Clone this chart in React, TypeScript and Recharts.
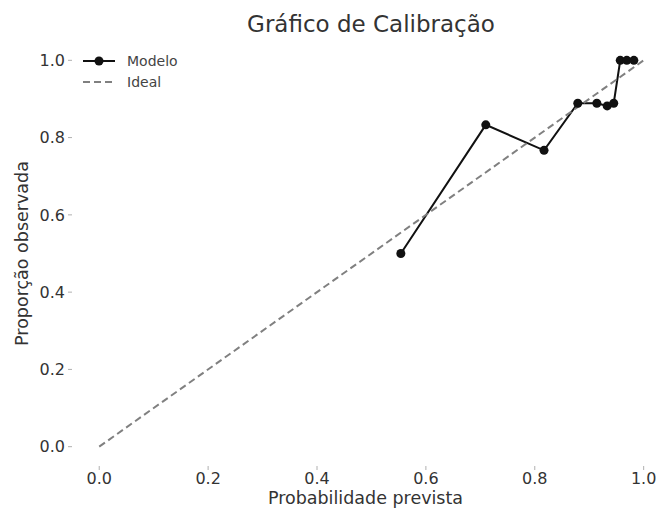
import { ComposedChart, Line, XAxis, YAxis } from 'recharts'

const predictedProb = [0.554, 0.71, 0.817, 0.879, 0.914, 0.933, 0.945, 0.957, 0.969, 0.982]
const observedProp = [0.5, 0.833, 0.767, 0.889, 0.889, 0.882, 0.889, 1.0, 1.0, 1.0]
const idealX = [0, 1]
const idealY = [0, 1]
const xTicks = [0, 0.2, 0.4, 0.6, 0.8, 1.0]
const yTicks = [0, 0.2, 0.4, 0.6, 0.8, 1.0]

const FONT = "'DejaVu Sans', sans-serif"
const TEXT = '#333333'

const modelData = predictedProb.map((x, i) => ({ x, y: observedProp[i] }))
const idealData = idealX.map((x, i) => ({ x, y: idealY[i] }))

type ViewBox = { x?: number; y?: number; width?: number; height?: number }

function XLabel({ viewBox }: { viewBox?: ViewBox }) {
  const vb = viewBox ?? {}
  const cx = (vb.x ?? 72) + (vb.width ?? 588) / 2 - 0.5
  return (
    <text x={cx} y={504} textAnchor="middle" fontFamily={FONT} fontSize={17.5} fill={TEXT}>
      Probabilidade prevista
    </text>
  )
}

function YLabel({ viewBox }: { viewBox?: ViewBox }) {
  const vb = viewBox ?? {}
  const cy = (vb.y ?? 41) + (vb.height ?? 425) / 2
  return (
    <text
      x={28}
      y={cy}
      textAnchor="middle"
      transform={`rotate(-90 28 ${cy})`}
      fontFamily={FONT}
      fontSize={17.5}
      fill={TEXT}
    >
      Proporção observada
    </text>
  )
}

export default function App() {
  return (
    <div style={{ position: 'absolute', left: 0, top: 0, width: 660, height: 516, background: '#fff' }}>
      <ComposedChart width={660} height={516} margin={{ top: 41, right: 0, bottom: 0, left: 0 }}>
        <XAxis
          type="number"
          dataKey="x"
          domain={[-0.05, 1.03]}
          ticks={xTicks}
          tickFormatter={(v) => Number(v).toFixed(1)}
          axisLine={false}
          tickLine={{ stroke: '#b0b0b0' }}
          tickSize={4}
          tickMargin={3}
          height={50}
          tick={{ fontSize: 16, fill: TEXT, fontFamily: FONT }}
          label={(props: any) => <XLabel viewBox={props.viewBox} />}
        />
        <YAxis
          type="number"
          dataKey="y"
          domain={[-0.05, 1.05]}
          ticks={yTicks}
          tickFormatter={(v) => Number(v).toFixed(1)}
          axisLine={false}
          tickLine={{ stroke: '#b0b0b0' }}
          tickSize={4}
          tickMargin={3}
          width={72}
          tick={{ fontSize: 16, fill: TEXT, fontFamily: FONT }}
          label={(props: any) => <YLabel viewBox={props.viewBox} />}
        />
        <Line
          data={modelData}
          dataKey="y"
          type="linear"
          stroke="#111"
          strokeWidth={2}
          dot={{ r: 4.5, fill: '#111', stroke: '#111', strokeWidth: 0 }}
          isAnimationActive={false}
        />
        <Line
          data={idealData}
          dataKey="y"
          type="linear"
          stroke="#808080"
          strokeWidth={2}
          strokeDasharray="7 4"
          dot={false}
          isAnimationActive={false}
        />
        <text x={371} y={32} textAnchor="middle" fontFamily={FONT} fontSize={23} fill={TEXT}>
          Gráfico de Calibração
        </text>
        <g>
          <line x1={83} y1={61} x2={115} y2={61} stroke="#111" strokeWidth={2} />
          <circle cx={99} cy={61} r={4.5} fill="#111" />
          <text x={127} y={61} dy="0.35em" fontFamily={FONT} fontSize={14} fill="#444">
            Modelo
          </text>
          <line x1={83} y1={82} x2={115} y2={82} stroke="#808080" strokeWidth={2} strokeDasharray="7 4" />
          <text x={127} y={82} dy="0.35em" fontFamily={FONT} fontSize={14} fill="#444">
            Ideal
          </text>
        </g>
      </ComposedChart>
    </div>
  )
}
